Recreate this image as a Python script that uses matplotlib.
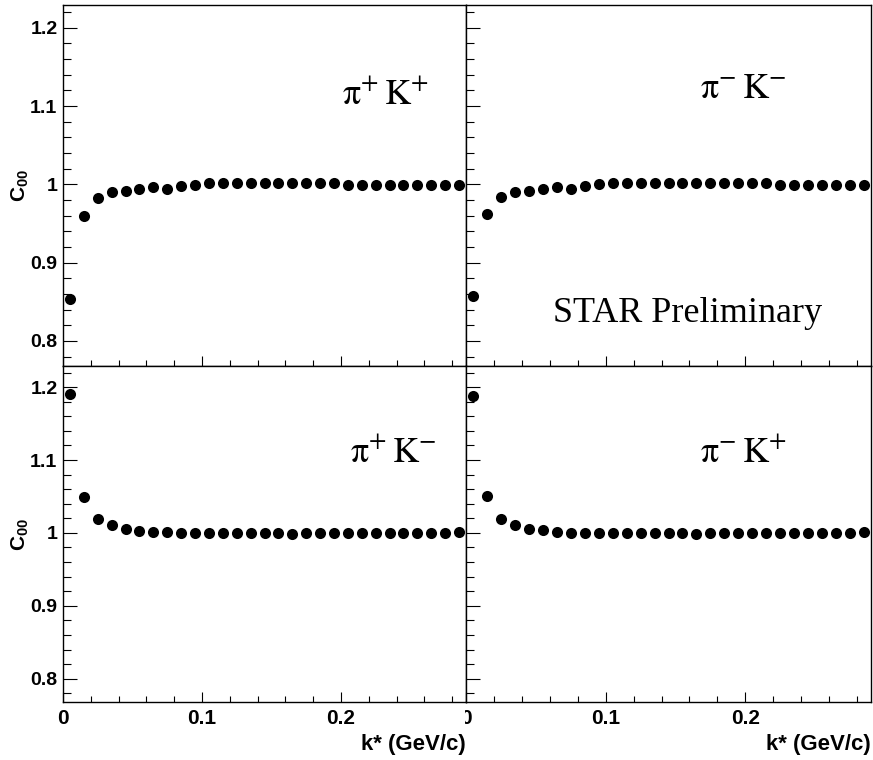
import matplotlib
matplotlib.use("Agg")
import matplotlib.pyplot as plt
from matplotlib.ticker import MultipleLocator
from matplotlib.transforms import Bbox, TransformedBbox

plt.rcParams['font.family'] = 'Liberation Sans'
plt.rcParams['axes.labelweight'] = 'bold'
plt.rcParams['mathtext.fontset'] = 'custom'
plt.rcParams['mathtext.rm'] = 'Liberation Sans:bold'
plt.rcParams['mathtext.it'] = 'Liberation Sans:bold'
plt.rcParams['mathtext.bf'] = 'Liberation Sans:bold'

# k* bin centres (GeV/c)
kstar = [0.005, 0.015, 0.025, 0.035, 0.045, 0.055, 0.065, 0.075, 0.085, 0.095,
         0.105, 0.115, 0.125, 0.135, 0.145, 0.155, 0.165, 0.175, 0.185, 0.195,
         0.205, 0.215, 0.225, 0.235, 0.245, 0.255, 0.265, 0.275, 0.285]

c00_pip_kp = [0.853, 0.959, 0.982, 0.990, 0.991, 0.9945, 0.9965, 0.9945, 0.998, 0.999,
              1.0015, 1.0015, 1.0015, 1.0015, 1.0015, 1.0015, 1.0015, 1.0015, 1.0015, 1.0015,
              0.9995, 0.9995, 0.9995, 0.9995, 0.9995, 0.9995, 0.9995, 0.9995, 0.9995]
c00_pim_km = [0.858, 0.962, 0.984, 0.990, 0.9915, 0.9945, 0.9966, 0.9945, 0.998, 1.000,
              1.0015, 1.0015, 1.0015, 1.0015, 1.0015, 1.0015, 1.0015, 1.0015, 1.0015, 1.0015,
              1.0015, 1.0015, 0.9995, 0.9995, 0.9995, 0.9995, 0.9995, 0.9995, 0.9995]
c00_pip_km = [1.190, 1.049, 1.019, 1.0114, 1.006, 1.003, 1.001, 1.001, 1.000, 1.000,
              1.000, 1.000, 1.000, 1.000, 1.000, 1.000, 0.998, 1.000, 1.000, 1.000,
              1.000, 1.000, 1.000, 1.000, 1.000, 1.000, 1.000, 1.000, 1.001]
c00_pim_kp = [1.1885, 1.050, 1.019, 1.0104, 1.006, 1.0036, 1.001, 1.000, 1.000, 1.000,
              1.000, 1.000, 1.000, 1.000, 1.000, 1.000, 0.998, 1.000, 1.000, 1.000,
              1.000, 1.000, 1.000, 1.000, 1.000, 1.000, 1.000, 1.000, 1.0014]

pair_labels = [r'$\mathrm{\pi^{+}\,K^{+}}$', r'$\mathrm{\pi^{-}\,K^{-}}$',
               r'$\mathrm{\pi^{+}\,K^{-}}$', r'$\mathrm{\pi^{-}\,K^{+}}$']

ytick_vals = [0.8, 0.9, 1.0, 1.1, 1.2]
ytick_text = ['0.8', '0.9', '1', '1.1', '1.2']
xtick_vals = [0.0, 0.1, 0.2]
xtick_text = ['0', '0.1', '0.2']

W, H = 873, 760
fig = plt.figure(figsize=(W / 100, H / 100), dpi=100)


def px_rect(x0, y0, x1, y1):
    return [x0 / W, 1 - y1 / H, (x1 - x0) / W, (y1 - y0) / H]


rects = [px_rect(63, 5, 466, 366), px_rect(466, 5, 871, 366),
         px_rect(63, 366, 466, 702), px_rect(466, 366, 871, 702)]
series = [c00_pip_kp, c00_pim_km, c00_pip_km, c00_pim_kp]
label_pos = [(0.692, 0.723), (0.578, 0.742), (0.712, 0.714), (0.578, 0.714)]

for i in range(4):
    ax = fig.add_axes(rects[i])
    ax.plot(kstar, series[i], 'o', color='black', ms=8, mew=0)
    ax.set_xlim(0, 0.29)
    ax.set_ylim(0.768, 1.229)

    left = i % 2 == 0
    bottom = i >= 2

    if left:
        ax.set_yticks(ytick_vals, ytick_text, fontsize=14, fontweight='bold')
        ax.tick_params(axis='y', pad=4)
        ax.set_ylabel(r'$\mathrm{C}_{\mathrm{00}}$', fontsize=15, va='center')
        ax.yaxis.set_label_coords(-0.107, 0.5)
    else:
        ax.set_yticks(ytick_vals)
        ax.tick_params(axis='y', labelleft=False)

    if bottom:
        ax.set_xticks(xtick_vals, xtick_text, fontsize=15, fontweight='bold')
        ax.tick_params(axis='x', pad=5)
        ax.set_xlabel('k* (GeV/c)', fontsize=16, fontweight='bold')
        ax.xaxis.set_label_coords(1.0, -0.095)
        ax.xaxis.label.set_ha('right')
    else:
        ax.set_xticks(xtick_vals)
        ax.tick_params(axis='x', labelbottom=False)

    ax.xaxis.set_minor_locator(MultipleLocator(0.02))
    ax.yaxis.set_minor_locator(MultipleLocator(0.02))
    ax.tick_params(axis='x', which='major', direction='in', length=7.5, width=0.8)
    ax.tick_params(axis='x', which='minor', direction='in', length=4.5, width=0.8)
    ax.tick_params(axis='y', which='major', direction='in', length=10, width=0.8)
    ax.tick_params(axis='y', which='minor', direction='in', length=5.5, width=0.8)

    for sp in ax.spines.values():
        sp.set_linewidth(1.0)

    ax.text(label_pos[i][0], label_pos[i][1], pair_labels[i], transform=ax.transAxes,
            fontsize=26, math_fontfamily='stix', ha='left', va='baseline')

    if i == 1:
        ax.text(0.215, 0.122, 'STAR Preliminary', transform=ax.transAxes,
                family='Liberation Serif', fontsize=26, ha='left', va='baseline')

    if i == 3:
        # the left pad hides most of this panel's "0" label
        clip = TransformedBbox(Bbox([[465 / W, 0], [1, 1]]), fig.transFigure)
        for lbl in ax.get_xticklabels():
            lbl.set_clip_box(clip)
            lbl.set_clip_on(True)

plt.savefig('out.png', dpi=100)
